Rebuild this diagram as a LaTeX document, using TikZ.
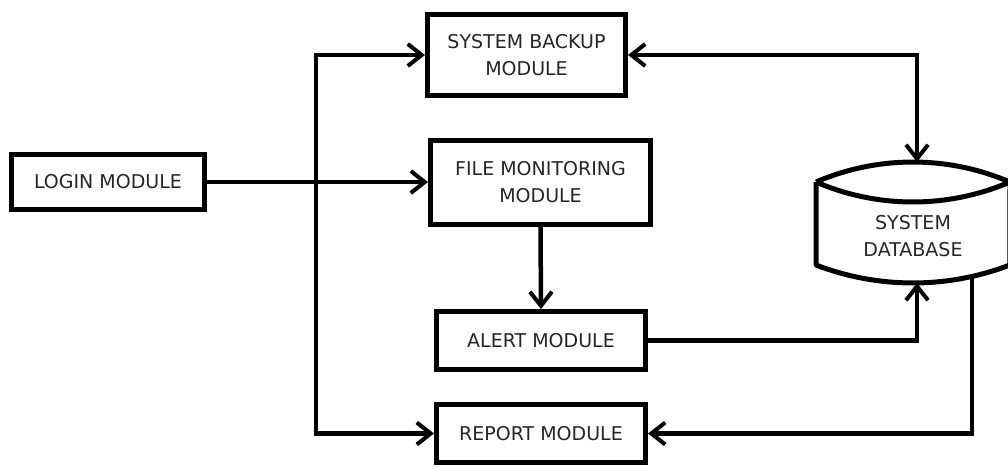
\documentclass[tikz,border=0pt]{standalone}
\usepackage{fontspec}
\setmainfont{DejaVu Sans}
\usetikzlibrary{arrows.meta,calc}
\begin{document}
\begin{tikzpicture}[x=1pt,y=-1pt,
  modbox/.style={draw=black,line width=5pt,fill=white,inner sep=0pt,align=center,
    font=\fontsize{19}{27}\selectfont,text=black!85},
  conn/.style={line width=4.5pt,draw=black},
  tip/.style={-{Straight Barb[length=14pt,width=22pt,line width=4pt]}},
  dtip/.style={{Straight Barb[length=14pt,width=22pt,line width=4pt]}-{Straight Barb[length=14pt,width=22pt,line width=4pt]}}
]
\useasboundingbox (0,0) rectangle (1008,467);
\clip (0,0) rectangle (1008,467);
% modules
\node[modbox,minimum width=193pt,minimum height=55pt] (login) at (108,182) {LOGIN MODULE};
\node[modbox,minimum width=198pt,minimum height=81pt] (backup) at (526.5,55) {SYSTEM BACKUP\\MODULE};
\node[modbox,minimum width=220pt,minimum height=84pt] (filemon) at (540.5,182.5) {FILE MONITORING\\MODULE};
\node[modbox,minimum width=209pt,minimum height=58pt] (alert) at (541,340.5) {ALERT MODULE};
\node[modbox,minimum width=209pt,minimum height=58pt] (report) at (541,433.5) {REPORT MODULE};
% database
\draw[line width=5pt,line join=round]
  (816,182) arc[start angle=-113.3,end angle=-66.7,radius=245]
  (816,182) arc[start angle=113.3,end angle=66.7,radius=245]
  (816,182) -- (816,265) arc[start angle=111.0,end angle=69.0,radius=270.4] -- (1010,182);
\node[align=center,font=\fontsize{19}{27}\selectfont,text=black!85,inner sep=0pt] (dbtext) at (913,236) {SYSTEM\\DATABASE};
\coordinate (dbtop) at (917,162);
\coordinate (dbbot) at (917,283);
\coordinate (dbout) at (972,276);
\coordinate (j) at (316,182);
% connectors
\draw[conn,tip] (login.east) -- (login.east -| filemon.west);
\draw[conn,tip] (j) |- (backup.west);
\draw[conn,tip] (j) |- (report.west);
\draw[conn,dtip] (backup.east) -| (dbtop);
\draw[conn,tip] (filemon.south) -- (alert.north);
\draw[conn,tip] (alert.east) -| (dbbot);
\draw[conn,tip] (dbout) |- (report.east);
\end{tikzpicture}
\end{document}
